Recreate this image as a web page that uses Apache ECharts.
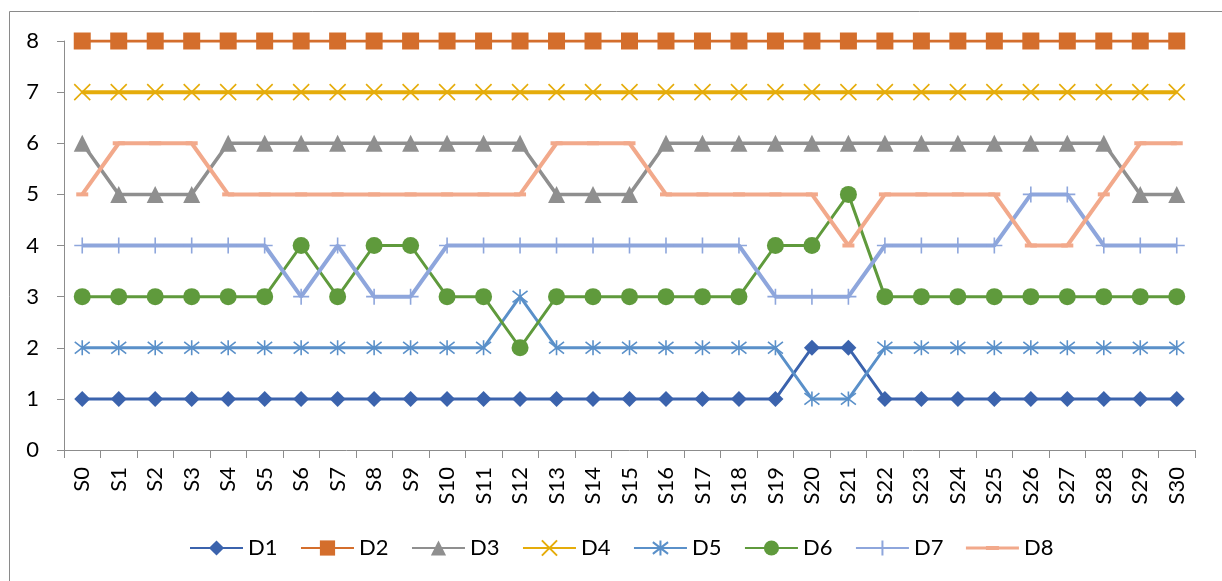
<!DOCTYPE html>
<html>
<head>
<meta charset="utf-8">
<script src="https://cdn.jsdelivr.net/npm/echarts@6/dist/echarts.min.js"></script>
<style>
  html, body { margin: 0; padding: 0; background: #fff; }
  #chart { width: 1222px; height: 581px; }
</style>
</head>
<body>
<div id="chart"></div>
<script>
// Categories S0..S30
const categories = ['S0','S1','S2','S3','S4','S5','S6','S7','S8','S9','S10','S11','S12','S13','S14','S15',
  'S16','S17','S18','S19','S20','S21','S22','S23','S24','S25','S26','S27','S28','S29','S30'];

const yTicks = [0, 1, 2, 3, 4, 5, 6, 7, 8];

const D1 = [1,1,1,1,1,1,1,1,1,1,1,1,1,1,1,1,1,1,1,1,2,2,1,1,1,1,1,1,1,1,1];
const D2 = [8,8,8,8,8,8,8,8,8,8,8,8,8,8,8,8,8,8,8,8,8,8,8,8,8,8,8,8,8,8,8];
const D3 = [6,5,5,5,6,6,6,6,6,6,6,6,6,5,5,5,6,6,6,6,6,6,6,6,6,6,6,6,6,5,5];
const D4 = [7,7,7,7,7,7,7,7,7,7,7,7,7,7,7,7,7,7,7,7,7,7,7,7,7,7,7,7,7,7,7];
const D5 = [2,2,2,2,2,2,2,2,2,2,2,2,3,2,2,2,2,2,2,2,1,1,2,2,2,2,2,2,2,2,2];
const D6 = [3,3,3,3,3,3,4,3,4,4,3,3,2,3,3,3,3,3,3,4,4,5,3,3,3,3,3,3,3,3,3];
const D7 = [4,4,4,4,4,4,3,4,3,3,4,4,4,4,4,4,4,4,4,3,3,3,4,4,4,4,5,5,4,4,4];
const D8 = [5,6,6,6,5,5,5,5,5,5,5,5,5,6,6,6,5,5,5,5,5,4,5,5,5,5,4,4,5,6,6];

const FONT = 'Lato, "Open Sans", sans-serif';
const AXIS_GREY = '#8c8c8c';

// Marker shapes drawn as stroked paths
const SYM_X = 'path://M0,0L10,10M10,0L0,10';
const SYM_STAR = 'path://M0,0L10,10M10,0L0,10M5,-1.5L5,11.5';
const SYM_PLUS = 'path://M5,0L5,10M0,5L10,5';
const SYM_DASH = 'path://M0,0L12,0L12,4L0,4Z';
// Legend key for D8: thin line with a slightly thicker dash in the middle
const ICON_D8 = 'path://M0,0.6L20,0.6L20,0L33,0L33,4L20,4L20,3.4L0,3.4Z M33,0.6L53,0.6L53,3.4L33,3.4Z';

function series(name, data, color, symbol, size, lineWidth, stroked) {
  return {
    name: name,
    type: 'line',
    data: data,
    symbol: symbol,
    symbolSize: size,
    showAllSymbol: true,
    lineStyle: { color: color, width: lineWidth },
    itemStyle: stroked
      ? { color: color, borderColor: color, borderWidth: 1.6 }
      : { color: color, borderWidth: 0 },
    emphasis: { disabled: true }
  };
}

const chart = echarts.init(document.getElementById('chart'), null, { renderer: 'canvas' });

chart.setOption({
  animation: false,
  backgroundColor: '#ffffff',
  graphic: [{
    type: 'rect',
    shape: { x: 9.5, y: 11.5, width: 1400, height: 800 },
    style: { fill: 'none', stroke: '#8a8a8a', lineWidth: 1 },
    silent: true,
    z: -10
  }],
  grid: { left: 64, right: 27, top: 41, bottom: 131, containLabel: false },
  legend: {
    top: 532,
    left: 184,
    itemWidth: 53,
    itemHeight: 19,
    itemGap: 22.5,
    textStyle: { fontFamily: FONT, fontSize: 22, color: '#000' },
    data: ['D1','D2','D3','D4','D5','D6','D7',{ name: 'D8', icon: ICON_D8 }]
  },
  xAxis: {
    type: 'category',
    data: categories,
    boundaryGap: true,
    axisLine: { lineStyle: { color: AXIS_GREY, width: 1 } },
    axisTick: { show: true, length: 8, alignWithLabel: false, lineStyle: { color: AXIS_GREY } },
    axisLabel: { rotate: 90, interval: 0, margin: 17, fontFamily: FONT, fontSize: 22, color: '#000' },
    splitLine: { show: false }
  },
  yAxis: {
    type: 'value',
    min: yTicks[0],
    max: yTicks[yTicks.length - 1],
    interval: 1,
    axisLine: { show: true, lineStyle: { color: AXIS_GREY, width: 1 } },
    axisTick: { show: true, length: 7, lineStyle: { color: AXIS_GREY } },
    axisLabel: { margin: 25, fontFamily: FONT, fontSize: 22, color: '#000' },
    splitLine: { show: false }
  },
  series: [
    series('D1', D1, '#3b63ad', 'diamond', 16, 3, false),
    series('D2', D2, '#d46e2c', 'rect', 17, 3, false),
    series('D3', D3, '#8f8f8f', 'triangle', 17, 3.5, false),
    series('D4', D4, '#e5ac0a', SYM_X, 16, 4, true),
    series('D5', D5, '#5a90c9', SYM_STAR, 15, 3, true),
    series('D6', D6, '#5f9a3c', 'circle', 17, 3, false),
    series('D7', D7, '#8ea6dc', SYM_PLUS, 16, 4, true),
    series('D8', D8, '#f2a98b', SYM_DASH, [12, 4], 4, false)
  ]
});
</script>
</body>
</html>
